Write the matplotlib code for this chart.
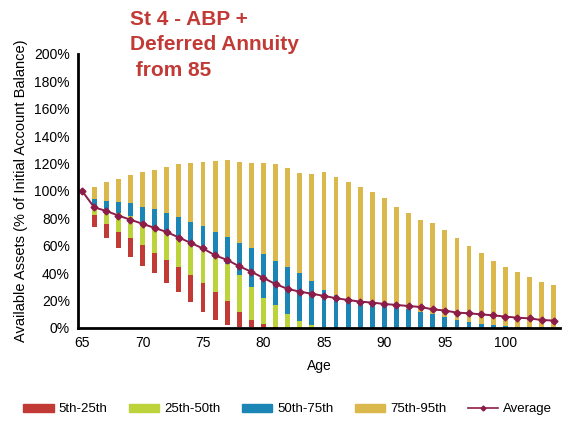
import numpy as np
import matplotlib.pyplot as plt
from matplotlib.patches import Patch
from matplotlib.lines import Line2D

plt.rcParams['font.family'] = ['Liberation Sans Narrow', 'Liberation Sans', 'DejaVu Sans']

# edades con barras (66-104) y promedio (65-104)
edades = np.arange(66, 105)
edades_prom = np.arange(65, 105)

p5 = [73.5, 65.5, 58.6, 52, 45, 40, 33, 26.5, 19.2, 11.9, 5.8, 2, 1, 0.5, 0,
      0, 0, 0, 0, 0, 0, 0, 0, 0, 0, 0, 0, 0, 0, 0, 0, 0, 0, 0, 0, 0, 0, 0, 0]
p25 = [82.5, 76, 70.3, 66, 60.6, 54.5, 49.6, 44.3, 38.7, 32.6, 26.5, 20, 12, 5.8, 3,
       1, 0, 0, 0, 0, 0, 0, 0, 0, 0, 0, 0, 0, 0, 0, 0, 0, 0, 0, 0, 0, 0, 0, 0]
p50 = [88.5, 86.6, 83.7, 81.8, 77.6, 72.8, 69, 65.5, 61, 57, 52, 47, 39, 30, 22,
       17, 10, 5, 2, 1, 0, 0, 0, 0, 0, 0, 0, 0, 0, 0, 0, 0, 0, 0, 0, 0, 0, 0, 0]
p75 = [94, 93, 92, 91, 88.5, 86.6, 83.7, 81.3, 77.6, 74.5, 70.3, 66.2, 62.3, 58.6, 53.8,
       49, 44.3, 40, 34, 28, 24, 21, 19.5, 18, 16.5, 15, 13.5, 12, 10, 8,
       6, 4.5, 3, 2, 1.5, 1, 0.5, 0.5, 0]
p95 = [102.7, 106.8, 109, 111.7, 114, 115, 117.7, 119.7, 120.7, 121.4, 122, 122.6, 121.4, 120.7, 120.7,
       119.7, 116.6, 113.4, 112.4, 113.6, 110.5, 106.8, 103, 99, 95, 88.5, 84.2, 78.8, 76.4, 71.5,
       65.5, 60, 54.5, 49, 44.7, 41, 37.5, 33.8, 31]
promedio = [100, 88, 85.4, 82, 79, 76, 73, 70, 66, 62, 58, 53, 49.6, 45, 41, 36.5,
            32, 28.5, 26.5, 25, 23.4, 21.7, 20.4, 19.2, 18.5, 17.5, 16.8, 16, 15.3, 13.6,
            12.7, 11.2, 10.7, 9.9, 9.2, 8.3, 7.5, 7, 5.8, 5.4]

etiquetas = ['5th-25th', '25th-50th', '50th-75th', '75th-95th', 'Average']
colores = ['#c23a36', '#bcd33c', '#1b85b5', '#dab84c']
color_prom = '#8c1c48'

p5, p25, p50, p75, p95 = map(np.array, (p5, p25, p50, p75, p95))
tramos = [(p5, p25), (p25, p50), (p50, p75), (p75, p95)]

fig = plt.figure(figsize=(5.7, 4.21), dpi=100)
ax = fig.add_axes([0.137, 0.221, 0.845, 0.651])

for (abajo, arriba), c in zip(tramos, colores):
    ax.bar(edades, arriba - abajo, bottom=abajo, width=0.4, color=c, linewidth=0)

ax.plot(edades_prom, promedio, color=color_prom, lw=1.4, marker='D', ms=3.5)

ax.set_xlim(64.67, 104.5)
ax.set_ylim(0, 200)
ax.set_yticks(np.arange(0, 201, 20))
ax.set_yticklabels([f'{v}%' for v in range(0, 201, 20)])
ax.set_xticks([65, 70, 75, 80, 85, 90, 95, 100])
ax.tick_params(axis='both', labelsize=10, length=0, pad=6)
for lado in ['top', 'right']:
    ax.spines[lado].set_visible(False)
for lado in ['left', 'bottom']:
    ax.spines[lado].set_linewidth(2)
ax.set_xlabel('Age', fontsize=10, labelpad=6)
ax.set_ylabel('Available Assets (% of Initial Account Balance)', fontsize=10.5, labelpad=4)

fig.text(0.228, 0.977, 'St 4 - ABP +\nDeferred Annuity\n from 85', color='#c23a36',
         fontsize=15, fontweight='bold', va='top', ha='left', linespacing=1.45,
         family=['Liberation Sans', 'DejaVu Sans'])

manijas = [Patch(color=c) for c in colores]
manijas.append(Line2D([], [], color=color_prom, lw=1.2, marker='D', ms=2.5))
fig.legend(manijas, etiquetas, loc='center', bbox_to_anchor=(0.505, 0.028), ncol=5,
           frameon=False, fontsize=9.5, handlelength=2.3, handleheight=0.55,
           columnspacing=1.6, handletextpad=0.4)

plt.savefig('out.png', dpi=100)
